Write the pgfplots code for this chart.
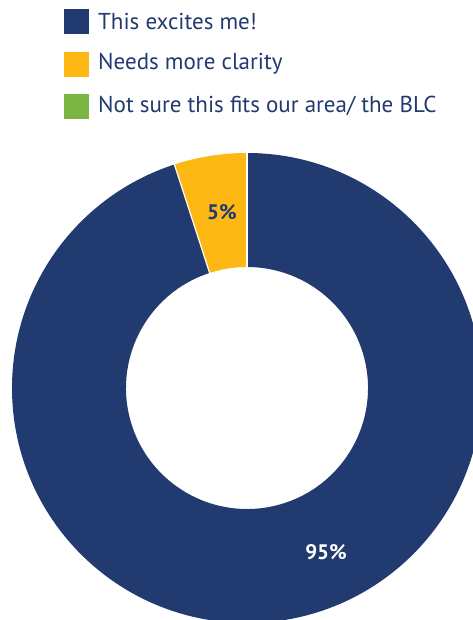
\documentclass[border=0pt]{standalone}
\usepackage{pgfplots}
\usepackage{pgfplotstable}
\pgfplotsset{compat=1.18}
\usepackage{fontspec}
\setmainfont{PT Sans}
\definecolor{navy}{HTML}{213A6F}
\definecolor{gold}{HTML}{FDB813}
\definecolor{leaf}{HTML}{7AB443}
\pgfplotstableread{
label value
excites 95
clarity 5
notsure 0
}\piedata
\begin{document}
\begin{tikzpicture}
\pgfplotstablegetelem{0}{value}\of\piedata \let\va\pgfplotsretval
\pgfplotstablegetelem{1}{value}\of\piedata \let\vb\pgfplotsretval
\pgfplotstablegetelem{2}{value}\of\piedata \let\vc\pgfplotsretval
\pgfmathsetmacro\aS{90}
\pgfmathsetmacro\aA{90-3.6*\va}
\pgfmathsetmacro\aB{\aA-3.6*\vb}
\def\R{235}\def\r{121}
\begin{axis}[scale only axis, width=473pt, height=620pt,
  xmin=0, xmax=473, ymin=0, ymax=620, hide axis, clip=true]
\path (axis cs:0,0) rectangle (axis cs:473,620);
\begin{scope}[shift={(axis cs:247,232)}]
\fill[navy] (\aS:\r pt) -- (\aS:\R pt) arc[start angle=\aS, end angle=\aA, radius=\R pt] -- (\aA:\r pt) arc[start angle=\aA, end angle=\aS, radius=\r pt] -- cycle;
\fill[gold] (\aA:\r pt) -- (\aA:\R pt) arc[start angle=\aA, end angle=\aB, radius=\R pt] -- (\aB:\r pt) arc[start angle=\aB, end angle=\aA, radius=\r pt] -- cycle;
\draw[white, line width=1.2pt] (\aS:\r pt) -- (\aS:\R pt+1pt);
\draw[white, line width=1.2pt] (\aA:\r pt) -- (\aA:\R pt+1pt);
\end{scope}
\node[font=\fontsize{21}{24}\selectfont\bfseries, text=navy] at (axis cs:222,408) {5\%};
\node[font=\fontsize{21}{24}\selectfont\bfseries, text=white] at (axis cs:326,68) {95\%};
% legend
\fill[navy] (axis cs:64,586) rectangle (axis cs:89,611);
\fill[gold] (axis cs:64,543) rectangle (axis cs:89,568);
\fill[leaf] (axis cs:64,501) rectangle (axis cs:89,526);
\node[anchor=west, inner sep=0pt, text=navy, font=\fontsize{23}{26}\selectfont] at (axis cs:98,598) {This excites me!};
\node[anchor=west, inner sep=0pt, text=navy, font=\fontsize{23}{26}\selectfont] at (axis cs:98,556) {Needs more clarity};
\node[anchor=west, inner sep=0pt, text=navy, font=\fontsize{23}{26}\selectfont] at (axis cs:98,514) {Not sure this fits our area/ the BLC};
\end{axis}
\end{tikzpicture}
\end{document}
